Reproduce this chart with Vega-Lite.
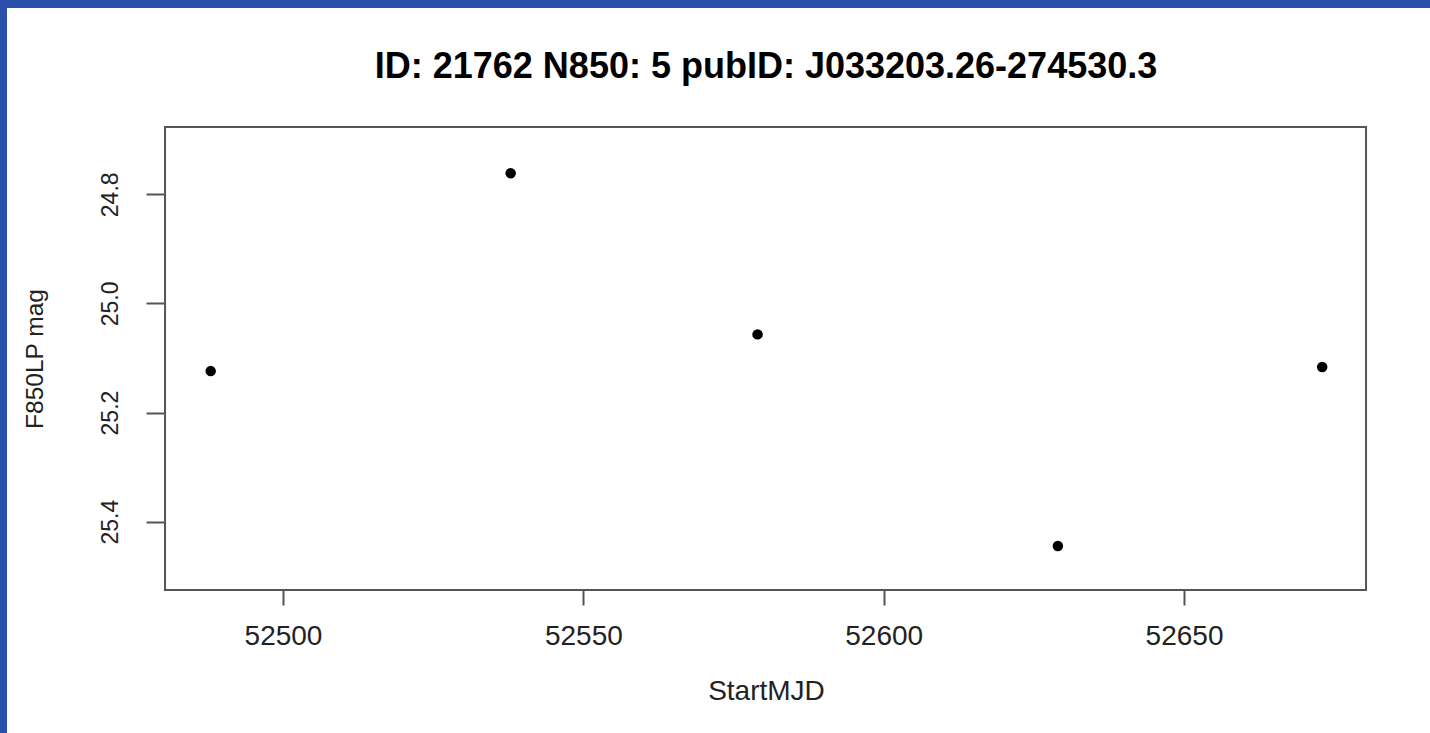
{
  "$schema": "https://vega.github.io/schema/vega-lite/v6.json",
  "width": 1423,
  "height": 725,
  "autosize": {"type": "none"},
  "padding": {"left": 7, "top": 8, "right": 0, "bottom": 0},
  "background": "#2a50ac",
  "config": {
    "view": {"fill": "white", "stroke": null},
    "font": "Liberation Sans"
  },
  "title": {
    "text": "ID: 21762 N850: 5 pubID: J033203.26-274530.3",
    "font": "Liberation Sans",
    "fontSize": 36,
    "fontWeight": "bold",
    "color": "#000000",
    "anchor": "middle",
    "frame": "group",
    "dx": 47.5,
    "baseline": "alphabetic",
    "offset": -106
  },
  "datasets": {
    "points": [
      {"StartMJD": 52487.96, "mag": 25.124},
      {"StartMJD": 52537.9, "mag": 24.7615},
      {"StartMJD": 52579.0, "mag": 25.0567},
      {"StartMJD": 52629.0, "mag": 25.4445},
      {"StartMJD": 52673.0, "mag": 25.1166}
    ],
    "box": [
      {"x0": 52480.36, "x1": 52680.3, "y0": 24.6767, "y1": 25.5252}
    ]
  },
  "layer": [
    {
      "data": {"name": "points"},
      "mark": {"type": "point", "filled": true, "shape": "circle", "size": 110, "color": "#000000", "opacity": 1},
      "encoding": {
        "x": {
          "field": "StartMJD",
          "type": "quantitative",
          "scale": {"domain": [52454.05, 52690.95], "nice": false, "zero": false},
          "axis": {
            "values": [52500, 52550, 52600, 52650],
            "format": "d",
            "domain": false,
            "grid": false,
            "offset": -143,
            "tickSize": 15,
            "tickWidth": 2,
            "tickColor": "#555555",
            "labelFontSize": 28,
            "labelColor": "#222222",
            "labelBaseline": "alphabetic",
            "labelPadding": 39,
            "labelFlush": false,
            "labelOverlap": false,
            "title": "StartMJD",
            "titleFontSize": 28,
            "titleFontWeight": "normal",
            "titleColor": "#222222",
            "titleX": 759,
            "titleY": 109,
            "titleAlign": "center",
            "titleBaseline": "alphabetic"
          }
        },
        "y": {
          "field": "mag",
          "type": "quantitative",
          "scale": {"domain": [24.4586, 25.7872], "reverse": true, "nice": false, "zero": false},
          "axis": {
            "values": [24.8, 25.0, 25.2, 25.4],
            "format": ".1f",
            "domain": false,
            "grid": false,
            "offset": -158,
            "tickSize": 19,
            "tickWidth": 2,
            "tickColor": "#555555",
            "labelFontSize": 23,
            "labelColor": "#222222",
            "labelAngle": 270,
            "labelAlign": "center",
            "labelBaseline": "alphabetic",
            "labelPadding": 29,
            "labelFlush": false,
            "labelOverlap": false,
            "title": "F850LP mag",
            "titleFontSize": 24.5,
            "titleFontWeight": "normal",
            "titleColor": "#222222",
            "titleAngle": 270,
            "titleX": -123,
            "titleY": 350.5,
            "titleAlign": "center",
            "titleBaseline": "alphabetic"
          }
        }
      }
    },
    {
      "data": {"name": "box"},
      "mark": {"type": "rect", "fill": "transparent", "stroke": "#555555", "strokeWidth": 2},
      "encoding": {
        "x": {"field": "x0", "type": "quantitative"},
        "x2": {"field": "x1"},
        "y": {"field": "y0", "type": "quantitative"},
        "y2": {"field": "y1"}
      }
    }
  ]
}
